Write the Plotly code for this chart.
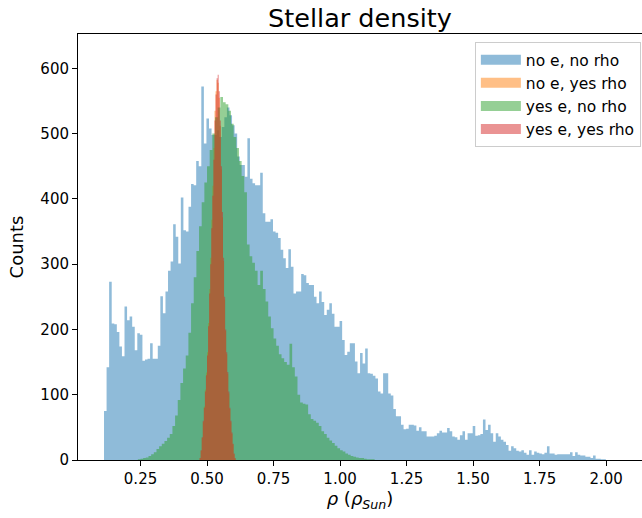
import plotly.graph_objects as go

# ---------------- data (bar heights) ----------------
blue_start = 0.1128
blue_width = 0.009624
blue_counts = [
    75, 142, 273, 209, 208, 196, 174, 159, 235, 214,
    220, 204, 168, 194, 192, 152, 154, 155, 179, 155,
    155, 175, 251, 225, 258, 290, 304, 361, 342, 301,
    402, 352, 350, 388, 423, 421, 458, 450, 572, 485,
    523, 508, 498, 498, 505, 495, 510, 525, 540, 528,
    513, 500, 465, 452, 452, 434, 493, 431, 424, 421,
    421, 440, 378, 365, 365, 369, 350, 348, 340, 322,
    309, 294, 323, 296, 255, 258, 258, 285, 283, 271,
    268, 268, 250, 240, 258, 242, 222, 230, 240, 224,
    204, 204, 213, 184, 161, 166, 179, 179, 151, 133,
    164, 148, 171, 133, 132, 129, 125, 105, 102, 133,
    133, 102, 99, 78, 67, 67, 54, 47, 48, 54,
    54, 53, 45, 50, 44, 44, 36, 36, 36, 37,
    41, 45, 42, 42, 49, 44, 36, 35, 31, 38,
    44, 31, 41, 41, 52, 37, 38, 40, 62, 46,
    54, 41, 28, 41, 36, 31, 28, 23, 14, 21,
    18, 14, 13, 15, 11, 8, 15, 8, 13, 11,
    10, 9, 11, 21, 10, 10, 8, 9, 9, 9,
    9, 9, 12, 6, 12, 8, 7, 7, 5, 5,
    3, 7, 2, 2, 1, 1,
]

green_start = 0.240
green_width = 0.010
green_counts = [
    1, 2, 3, 4, 6, 9, 12, 17, 21, 25,
    29, 34, 40, 52, 68, 92, 118, 140, 160, 195,
    240, 280, 320, 358, 395, 425, 450, 475, 500, 525,
    540, 556, 548, 545, 535, 515, 495, 478, 458, 435,
    410, 330, 312, 302, 290, 268, 290, 262, 243, 220,
    202, 186, 175, 162, 156, 150, 146, 178, 142, 128,
    100, 88, 86, 85, 70, 63, 60, 57, 52, 44,
    40, 34, 30, 26, 22, 18, 15, 13, 10, 8,
    6, 5, 4, 3, 3, 2, 1, 1, 1,
]

red_start = 0.472
red_width = 0.004
red_counts = [
    3, 15, 35, 60, 80, 105, 130, 160, 205, 255,
    300, 355, 405, 460, 520, 560, 585, 590, 565, 520,
    450, 380, 310, 250, 200, 165, 135, 105, 80, 60,
    42, 25, 10, 3,
]
orange_counts = [
    3, 14, 34, 58, 82, 108, 134, 165, 210, 262,
    310, 368, 420, 478, 535, 565, 582, 578, 555, 512,
    445, 372, 305, 246, 198, 162, 132, 102, 78, 58,
    40, 24, 9, 2,
]

series_names = ["no e, no rho", "no e, yes rho", "yes e, no rho", "yes e, yes rho"]
colors = ["rgba(31,119,180,0.5)", "rgba(255,127,14,0.5)",
          "rgba(44,160,44,0.5)", "rgba(214,39,40,0.5)"]

x_ticks = [0.25, 0.50, 0.75, 1.00, 1.25, 1.50, 1.75, 2.00]
x_tick_labels = ["0.25", "0.50", "0.75", "1.00", "1.25", "1.50", "1.75", "2.00"]
y_ticks = [0, 100, 200, 300, 400, 500, 600]


def step_outline(start, width, counts):
    """Histogram outline: bin edges with the count held over each bin."""
    xs = [start + width * i for i in range(len(counts) + 1)]
    ys = list(counts) + [counts[-1]]
    return [xs[0]] + xs + [xs[-1]], [0] + ys + [0]


fig = go.Figure()
hists = [
    (blue_start, blue_width, blue_counts),
    (red_start, red_width, orange_counts),
    (green_start, green_width, green_counts),
    (red_start, red_width, red_counts),
]
for (start, width, counts), name, col in zip(hists, series_names, colors):
    xs, ys = step_outline(start, width, counts)
    fig.add_trace(go.Scatter(
        x=xs, y=ys, name=name, mode="lines", line=dict(shape="hv", width=0, color=col),
        fill="toself", fillcolor=col, hoverinfo="skip",
        legendgroup=name, showlegend=False,
    ))
# legend keys drawn as wide patches (matplotlib-style)
for name, col in zip(series_names, colors):
    fig.add_trace(go.Scatter(
        x=[None], y=[None], name=name, mode="lines", line=dict(width=11, color=col),
        legendgroup=name, showlegend=True, hoverinfo="skip",
    ))

font = "DejaVu Sans, Verdana, sans-serif"
fig.update_layout(
    width=642, height=518,
    margin=dict(l=78, r=0, t=34, b=58),
    plot_bgcolor="white", paper_bgcolor="white",
    font=dict(family=font, size=15, color="black"),
    title=dict(text="Stellar density", font=dict(size=25.5, family=font, color="black"),
               x=360 / 642, xref="container", xanchor="center",
               y=1 - 18 / 518, yref="container", yanchor="middle"),
    showlegend=True,
    legend=dict(x=0.998, y=0.981, xanchor="right", yanchor="top",
                bgcolor="rgba(255,255,255,0.8)", bordercolor="#cccccc", borderwidth=1,
                font=dict(size=15.5, family=font, color="black"),
                tracegroupgap=0, itemwidth=40),
    xaxis=dict(range=[0.015, 2.135], tickmode="array", tickvals=x_ticks, ticktext=x_tick_labels,
               showgrid=False, zeroline=False, showline=True, linecolor="black", linewidth=1,
               mirror=True, ticks="outside", ticklen=5, tickcolor="black",
               tickfont=dict(size=15),
               title=dict(text="<i>ρ</i> (<i>ρ<sub>Sun</sub></i>)", standoff=5,
                          font=dict(size=18, family=font))),
    yaxis=dict(range=[0, 652.6], tickmode="array", tickvals=y_ticks,
               showgrid=False, zeroline=False, showline=True, linecolor="black", linewidth=1,
               ticks="outside", ticklen=5, tickcolor="black",
               tickfont=dict(size=15),
               title=dict(text="Counts", standoff=12, font=dict(size=18, family=font))),
)

fig.write_html("out.html", config={"displayModeBar": False},
               post_script="document.body.style.margin='0';document.body.style.overflow='hidden';")
